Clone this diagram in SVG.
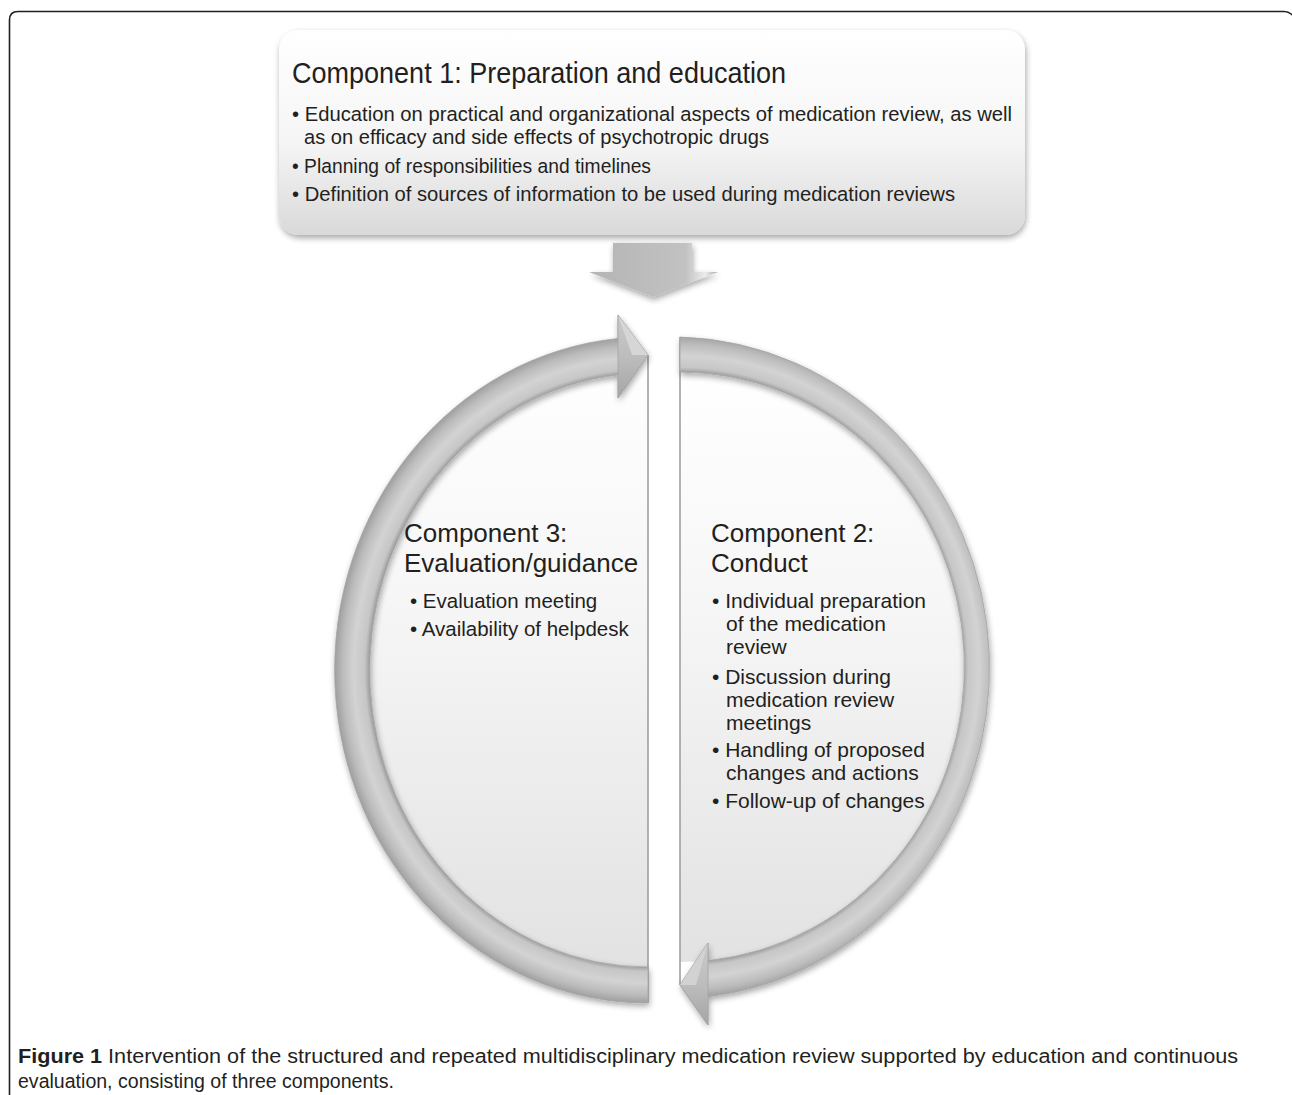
<svg xmlns="http://www.w3.org/2000/svg" width="1292" height="1095" viewBox="0 0 1292 1095">
  <defs>
    <style>
      .t { font-family: "Liberation Sans", Arial, sans-serif; fill: #231f20; }
      .cap { font-family: "Liberation Sans", Arial, sans-serif; fill: #231f20; font-size: 20px; }
      .edge { stroke: #9a9a9a; stroke-width: 1.5; fill: none; }
    </style>
    <filter id="sh" x="-10%" y="-10%" width="120%" height="125%">
      <feGaussianBlur in="SourceAlpha" stdDeviation="3"/>
      <feOffset dx="1" dy="3" result="b"/>
      <feComponentTransfer><feFuncA type="linear" slope="0.35"/></feComponentTransfer>
      <feMerge><feMergeNode/><feMergeNode in="SourceGraphic"/></feMerge>
    </filter>
    <linearGradient id="boxg" x1="0" y1="0" x2="0" y2="1">
      <stop offset="0" stop-color="#ffffff"/>
      <stop offset="0.55" stop-color="#f5f5f5"/>
      <stop offset="1" stop-color="#d9d9d9"/>
    </linearGradient>
    <linearGradient id="halfg" x1="0" y1="0" x2="0" y2="1">
      <stop offset="0" stop-color="#ffffff"/>
      <stop offset="0.4" stop-color="#f6f6f6"/>
      <stop offset="1" stop-color="#e2e2e2"/>
    </linearGradient>
    <radialGradient id="bandL" gradientUnits="userSpaceOnUse" cx="648" cy="670" r="333" gradientTransform="translate(648 670) scale(0.94 1) translate(-648 -670)">
      <stop offset="0.89" stop-color="#9c9c9c"/>
      <stop offset="0.905" stop-color="#c6c6c6"/>
      <stop offset="0.94" stop-color="#d3d3d3"/>
      <stop offset="0.975" stop-color="#bcbcbc"/>
      <stop offset="1" stop-color="#a0a0a0"/>
    </radialGradient>
    <radialGradient id="bandR" gradientUnits="userSpaceOnUse" cx="680" cy="667" r="331" gradientTransform="translate(680 667) scale(0.961 1) translate(-680 -667)">
      <stop offset="0.89" stop-color="#9c9c9c"/>
      <stop offset="0.905" stop-color="#c6c6c6"/>
      <stop offset="0.94" stop-color="#d3d3d3"/>
      <stop offset="0.975" stop-color="#bcbcbc"/>
      <stop offset="1" stop-color="#a0a0a0"/>
    </radialGradient>
    <linearGradient id="headg" x1="0" y1="0" x2="0" y2="1">
      <stop offset="0" stop-color="#c9c9c9"/>
      <stop offset="0.5" stop-color="#bdbdbd"/>
      <stop offset="1" stop-color="#a5a5a5"/>
    </linearGradient>
    <linearGradient id="downg" x1="0" y1="0" x2="1" y2="0">
      <stop offset="0" stop-color="#b4b4b4"/>
      <stop offset="0.75" stop-color="#c2c2c2"/>
      <stop offset="0.9" stop-color="#ececec"/>
      <stop offset="1" stop-color="#a8a8a8"/>
    </linearGradient>
  </defs>

  <rect width="1292" height="1095" fill="#ffffff"/>

  <!-- outer frame -->
  <path d="M9.5 1095 V20 Q9.5 11.5 18 11.5 H1284 Q1290 11.5 1294 17" fill="none" stroke="#231f20" stroke-width="1.6"/>

  <!-- Component 1 box -->
  <g id="component1">
    <rect x="279" y="30" width="746" height="205" rx="20" fill="url(#boxg)" filter="url(#sh)"/>
    <text class="t" x="292" y="83" font-size="29.5" textLength="494" lengthAdjust="spacingAndGlyphs">Component 1: Preparation and education</text>
    <text class="t" x="292" y="121" font-size="20.5" textLength="720" lengthAdjust="spacingAndGlyphs">• Education on practical and organizational aspects of medication review, as well</text>
    <text class="t" x="304" y="144" font-size="20.5" textLength="465" lengthAdjust="spacingAndGlyphs">as on efficacy and side effects of psychotropic drugs</text>
    <text class="t" x="292" y="173" font-size="20.5" textLength="359" lengthAdjust="spacingAndGlyphs">• Planning of responsibilities and timelines</text>
    <text class="t" x="292" y="201" font-size="20.5" textLength="663" lengthAdjust="spacingAndGlyphs">• Definition of sources of information to be used during medication reviews</text>
  </g>

  <!-- Component 3 half (left) -->
  <g id="component3">
    <path d="M648 355 V967 A278 297 0 0 1 648 373 Z" fill="url(#halfg)"/>
    <line class="edge" x1="648" y1="355" x2="648" y2="1003"/>
    <text class="t" x="404" y="542" font-size="26">Component 3:</text>
    <text class="t" x="404" y="572" font-size="26">Evaluation/guidance</text>
    <text class="t" x="410" y="608" font-size="20.5">• Evaluation meeting</text>
    <text class="t" x="410" y="636" font-size="20.5">• Availability of helpdesk</text>
  </g>

  <!-- Component 2 half (right) -->
  <g id="component2">
    <path d="M680 372 A284 295 0 0 1 680 962 Z" fill="url(#halfg)"/>
    <line class="edge" x1="680" y1="337" x2="680" y2="985"/>
    <text class="t" x="711" y="542" font-size="26">Component 2:</text>
    <text class="t" x="711" y="572" font-size="26">Conduct</text>
    <text class="t" x="712" y="608" font-size="21">• Individual preparation</text>
    <text class="t" x="726" y="631" font-size="21">of the medication</text>
    <text class="t" x="726" y="654" font-size="21">review</text>
    <text class="t" x="712" y="684" font-size="21">• Discussion during</text>
    <text class="t" x="726" y="707" font-size="21">medication review</text>
    <text class="t" x="726" y="730" font-size="21">meetings</text>
    <text class="t" x="712" y="757" font-size="21">• Handling of proposed</text>
    <text class="t" x="726" y="780" font-size="21">changes and actions</text>
    <text class="t" x="712" y="808" font-size="21">• Follow-up of changes</text>
  </g>

  <!-- connectors: arrows -->
  <g id="connectors">
    <!-- down arrow -->
    <path d="M613 243 H692 V272 H718 L653 297 L589 272 H613 Z" fill="url(#downg)" filter="url(#sh)"/>
    <!-- left circular arrow (3 -> 2) -->
    <path d="M648 1003 A313 333 0 0 1 618 338.5 V315 L648 355 L618 398 V374.7 A278 297 0 0 0 648 967 Z" fill="url(#bandL)" stroke="#a3a3a3" stroke-width="0.8" filter="url(#sh)"/>
    <path d="M618 315 L648 355 L618 398 Z" fill="url(#headg)" stroke="#a3a3a3" stroke-width="0.8"/>
    <path d="M618 315 L648 355 L632 355 Z" fill="#d6d6d6"/>
    <!-- right circular arrow (2 -> 3) -->
    <path d="M680 337 A318 331 0 0 1 708 996.7 V1025 L680 985 L708 943 V960.6 A284 295 0 0 0 680 372 Z" fill="url(#bandR)" stroke="#a3a3a3" stroke-width="0.8" filter="url(#sh)"/>
    <path d="M708 943 L680 985 L708 1025 Z" fill="url(#headg)" stroke="#a3a3a3" stroke-width="0.8"/>
    <path d="M708 943 L680 985 L696 985 Z" fill="#d2d2d2"/>
  </g>

  <!-- caption -->
  <text class="cap" x="18" y="1063" textLength="1220" lengthAdjust="spacingAndGlyphs"><tspan font-weight="bold">Figure 1</tspan> Intervention of the structured and repeated multidisciplinary medication review supported by education and continuous</text>
  <text class="cap" x="18" y="1088" textLength="376" lengthAdjust="spacingAndGlyphs">evaluation, consisting of three components.</text>
</svg>
